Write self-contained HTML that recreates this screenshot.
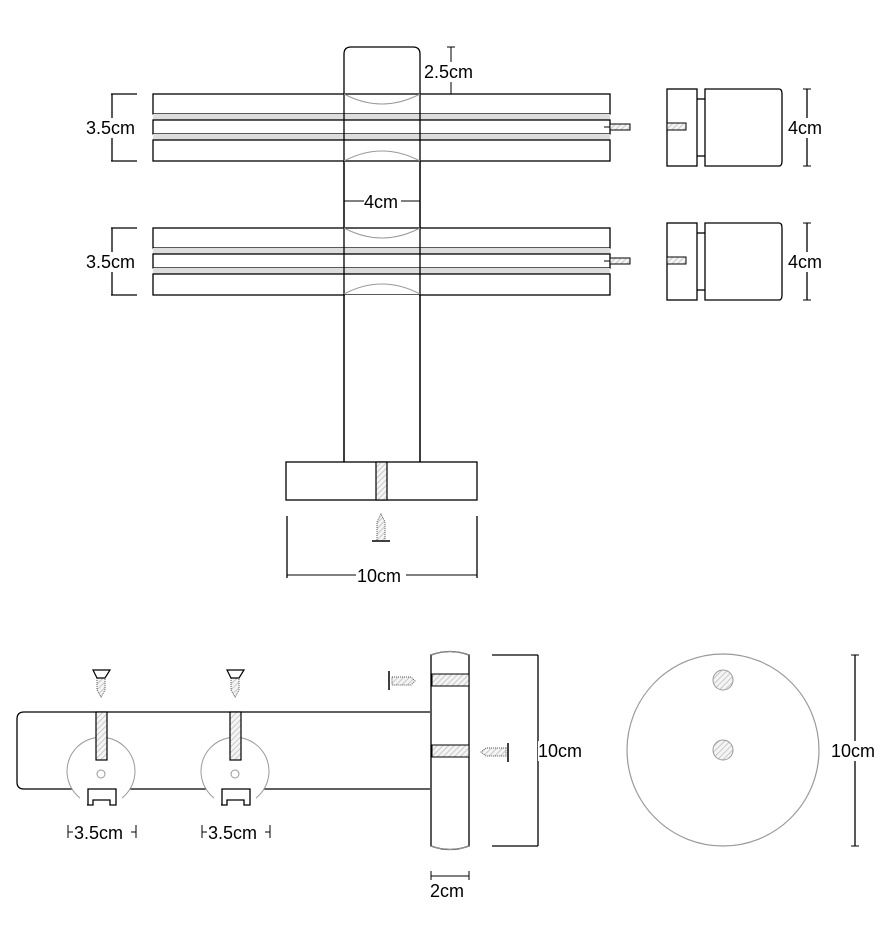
<!DOCTYPE html>
<html><head><meta charset="utf-8"><style>
html,body{margin:0;padding:0;background:#fff}
svg{display:block}
text{font-family:"Liberation Sans",Arial,sans-serif;font-size:18px;fill:#000}
</style></head><body>
<svg width="887" height="933" viewBox="0 0 887 933" xmlns="http://www.w3.org/2000/svg">
<defs>
<pattern id="h" width="4" height="4" patternUnits="userSpaceOnUse" patternTransform="rotate(45)">
<rect width="4" height="4" fill="#f4f4f4"/><line x1="0" y1="0" x2="0" y2="4" stroke="#bbb" stroke-width="1.5"/></pattern>
<g id="grp">
<rect x="153" y="0" width="457" height="20" fill="#fff" stroke="#000" stroke-width="1.3"/>
<rect x="153" y="20" width="457" height="6" fill="#ddd"/>
<rect x="153" y="26" width="457" height="14" fill="#fff" stroke="#000" stroke-width="1.3"/>
<rect x="153" y="40" width="457" height="6" fill="#ddd"/>
<rect x="153" y="46" width="457" height="21" fill="#fff" stroke="#000" stroke-width="1.3"/>
<rect x="610" y="30" width="20" height="6" fill="url(#h)" stroke="#000" stroke-width="1"/>
<line x1="604" y1="33" x2="610" y2="33" stroke="#000"/>
<line x1="111" y1="0" x2="137" y2="0" stroke="#000" stroke-width="1.3"/>
<line x1="111" y1="67" x2="137" y2="67" stroke="#000" stroke-width="1.3"/>
<line x1="112" y1="0" x2="112" y2="67" stroke="#000" stroke-width="1.3"/>
<rect x="86" y="24" width="54" height="20" fill="#fff"/>
<text x="86" y="40">3.5cm</text>
<rect x="667" y="-5" width="30" height="77" fill="#fff" stroke="#000" stroke-width="1.3"/>
<rect x="667" y="29" width="19" height="7" fill="url(#h)" stroke="#000" stroke-width="1"/>
<line x1="697" y1="5" x2="705" y2="5" stroke="#000" stroke-width="1.3"/>
<line x1="697" y1="62" x2="705" y2="62" stroke="#000" stroke-width="1.3"/>
<path d="M705,-5 H779 Q782,-5 782,0 V67 Q782,72 779,72 H705 Z" fill="#fff" stroke="#000" stroke-width="1.3"/>
<line x1="807" y1="-5" x2="807" y2="72" stroke="#000" stroke-width="1.3"/>
<line x1="803" y1="-5" x2="811" y2="-5" stroke="#000"/>
<line x1="803" y1="72" x2="811" y2="72" stroke="#000"/>
<rect x="787" y="24" width="40" height="20" fill="#fff"/>
<text x="788" y="40">4cm</text>
</g>
</defs>

<!-- post -->
<path d="M344,462 V54 Q344,47 351,47 H413 Q420,47 420,54 V462" fill="#fff" stroke="#000" stroke-width="1.3"/>
<use href="#grp" y="94"/>
<use href="#grp" y="228"/>
<!-- post lines over bars -->
<line x1="344" y1="94" x2="344" y2="462" stroke="#000" stroke-width="1.3"/>
<line x1="420" y1="94" x2="420" y2="462" stroke="#000" stroke-width="1.3"/>
<rect x="345" y="162" width="74" height="65" fill="#fff"/>
<rect x="345" y="295" width="74" height="10" fill="#fff"/>
<path d="M344,94 Q382,114 420,94" fill="none" stroke="#999"/>
<path d="M344,161 Q382,141 420,161" fill="none" stroke="#999"/>
<path d="M344,228 Q382,248 420,228" fill="none" stroke="#999"/>
<path d="M344,294 Q382,274 420,294" fill="none" stroke="#999"/>
<!-- 2.5cm -->
<line x1="451" y1="47" x2="451" y2="94" stroke="#000"/>
<line x1="447" y1="47" x2="455" y2="47" stroke="#000"/>
<rect x="424" y="62" width="54" height="20" fill="#fff"/>
<text x="424" y="78">2.5cm</text>
<!-- 4cm -->
<line x1="344" y1="201" x2="420" y2="201" stroke="#000"/>
<rect x="364" y="192" width="37" height="20" fill="#fff"/>
<text x="364" y="208">4cm</text>
<!-- base -->
<rect x="286" y="462" width="191" height="38" fill="#fff" stroke="#000" stroke-width="1.3"/>
<rect x="376" y="462" width="11" height="38" fill="url(#h)" stroke="#000" stroke-width="1.2"/>
<path d="M377,540 V522 L381,514 L385,522 V540" fill="url(#h)" stroke="#555" stroke-dasharray="1 1"/>
<line x1="372" y1="541" x2="390" y2="541" stroke="#000" stroke-width="1.5"/>
<line x1="287" y1="516" x2="287" y2="578" stroke="#000" stroke-width="1.3"/>
<line x1="477" y1="516" x2="477" y2="578" stroke="#000" stroke-width="1.3"/>
<line x1="287" y1="575" x2="477" y2="575" stroke="#000"/>
<rect x="356" y="566" width="50" height="20" fill="#fff"/>
<text x="357" y="582">10cm</text>

<!-- bottom bar -->
<path d="M430,712 H24 Q17,712 17,719 V782 Q17,789 24,789 H430" fill="#fff" stroke="#000" stroke-width="1.3"/>
<g id="hook">
<path d="M80,798 A34,34 0 1 1 122,798" fill="#fff" stroke="#999"/>
<rect x="96" y="712" width="11" height="48" fill="url(#h)" stroke="#000" stroke-width="1.2"/>
<circle cx="101" cy="774" r="4" fill="none" stroke="#999"/>
<path d="M87,805 H93 V800 H110 V805 H116 V789 H88 V805" fill="#fff" stroke="#000" stroke-width="1.3"/>
<path d="M97,678 V690 L101,697 L105,690 V678" fill="url(#h)" stroke="#555" stroke-dasharray="1 1"/>
<path d="M93,670 H110 L105,678 H97 Z" fill="none" stroke="#000" stroke-width="1.2"/>
<line x1="68" y1="825" x2="68" y2="838" stroke="#000"/>
<line x1="136" y1="825" x2="136" y2="838" stroke="#000"/>
<line x1="68" y1="832" x2="136" y2="832" stroke="#000"/>
<rect x="73" y="823" width="58" height="20" fill="#fff"/>
<text x="74" y="839">3.5cm</text>
</g>
<use href="#hook" x="134"/>

<!-- wall plate side -->
<path d="M431,655 Q450,648 469,655 V846 Q450,853 431,846 Z" fill="#fff" stroke="#000" stroke-width="1.3"/>
<path d="M431,655 Q450,648 469,655 M431,846 Q450,853 469,846" fill="none" stroke="#999"/>
<rect x="432" y="674" width="37" height="12" fill="url(#h)" stroke="#000" stroke-width="1"/>
<rect x="432" y="745" width="37" height="12" fill="url(#h)" stroke="#000" stroke-width="1"/>
<path d="M392,677 H411 L415,681 L411,685 H392 Z" fill="url(#h)" stroke="#555" stroke-dasharray="1 1"/>
<line x1="389" y1="671" x2="389" y2="690" stroke="#000" stroke-width="1.5"/>
<path d="M506,748 H486 L481,752 L486,756 H506 Z" fill="url(#h)" stroke="#555" stroke-dasharray="1 1"/>
<line x1="508" y1="743" x2="508" y2="762" stroke="#000" stroke-width="1.5"/>
<line x1="492" y1="655" x2="538" y2="655" stroke="#000" stroke-width="1.3"/>
<line x1="492" y1="846" x2="538" y2="846" stroke="#000" stroke-width="1.3"/>
<line x1="538" y1="655" x2="538" y2="846" stroke="#000" stroke-width="1.3"/>
<rect x="538" y="741" width="50" height="20" fill="#fff"/>
<text x="538" y="757">10cm</text>
<line x1="431" y1="876" x2="469" y2="876" stroke="#000"/>
<line x1="431" y1="871" x2="431" y2="880" stroke="#000"/>
<line x1="469" y1="871" x2="469" y2="880" stroke="#000"/>
<text x="430" y="897">2cm</text>

<!-- round plate -->
<circle cx="723" cy="750" r="96" fill="#fff" stroke="#999" stroke-width="1.2"/>
<circle cx="723" cy="680" r="10" fill="url(#h)" stroke="#999"/>
<circle cx="723" cy="750" r="10" fill="url(#h)" stroke="#999"/>
<line x1="855" y1="655" x2="855" y2="846" stroke="#000" stroke-width="1.3"/>
<line x1="851" y1="655" x2="859" y2="655" stroke="#000"/>
<line x1="851" y1="846" x2="859" y2="846" stroke="#000"/>
<rect x="831" y="741" width="52" height="20" fill="#fff"/>
<text x="831" y="757">10cm</text>
</svg>
</body></html>
